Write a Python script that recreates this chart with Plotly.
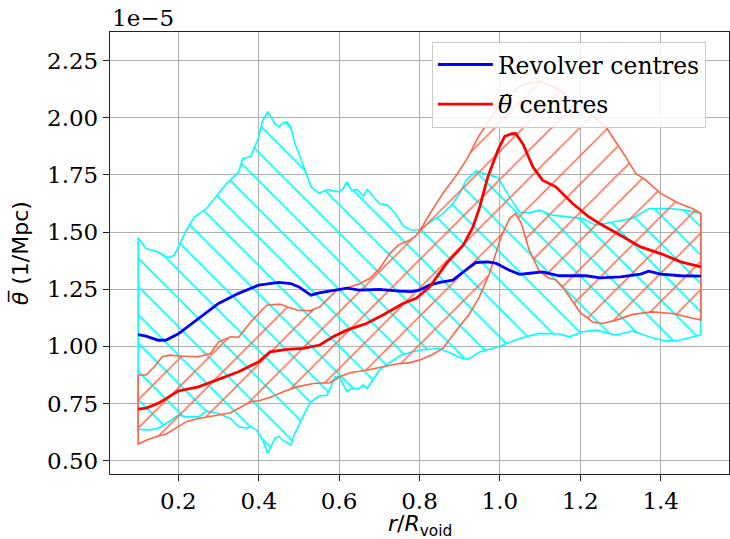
import plotly.graph_objects as go

# Values in units of 1e-5 (1/Mpc)
blue_x = [0.1, 0.12, 0.15, 0.17, 0.2, 0.25, 0.3, 0.35, 0.4, 0.45, 0.48, 0.5, 0.53, 0.55, 0.6, 0.62, 0.65, 0.7, 0.75,
          0.78, 0.8, 0.825, 0.85, 0.883, 0.909, 0.941, 0.97, 0.991, 1.024, 1.049, 1.075, 1.106, 1.148, 1.214, 1.25,
          1.3, 1.35, 1.37, 1.4, 1.45, 1.5]
blue_y = [1.052, 1.045, 1.027, 1.028, 1.055, 1.122, 1.188, 1.232, 1.268, 1.28, 1.275, 1.26, 1.224, 1.234, 1.249,
          1.255, 1.246, 1.249, 1.242, 1.24, 1.246, 1.268, 1.28, 1.29, 1.326, 1.367, 1.37, 1.363, 1.333, 1.315, 1.32,
          1.326, 1.309, 1.309, 1.30, 1.304, 1.316, 1.329, 1.316, 1.309, 1.307]

red_x = [0.1, 0.12, 0.15, 0.2, 0.25, 0.3, 0.35, 0.4, 0.428, 0.47, 0.511, 0.552, 0.585, 0.619, 0.668, 0.709, 0.759,
         0.792, 0.825, 0.867, 0.909, 0.933, 0.95, 0.97, 0.995, 1.012, 1.03, 1.039, 1.057, 1.082, 1.106, 1.139, 1.181,
         1.222, 1.25, 1.3, 1.35, 1.4, 1.45, 1.5]
red_y = [0.726, 0.73, 0.751, 0.805, 0.823, 0.856, 0.889, 0.933, 0.976, 0.987, 0.991, 1.006, 1.042, 1.071, 1.10,
         1.137, 1.188, 1.21, 1.26, 1.363, 1.443, 1.523, 1.61, 1.741, 1.858, 1.919, 1.93, 1.931, 1.887, 1.785, 1.727,
         1.698, 1.625, 1.566, 1.535, 1.486, 1.435, 1.406, 1.37, 1.348]

cyan_up_x = [0.1, 0.12, 0.15, 0.17, 0.18, 0.19, 0.2, 0.22, 0.24, 0.27, 0.3, 0.32, 0.35, 0.36, 0.38, 0.39, 0.4, 0.41,
             0.4225, 0.44, 0.45, 0.46, 0.47, 0.48, 0.49, 0.5, 0.52, 0.53, 0.55, 0.57, 0.6, 0.61, 0.62, 0.63, 0.645,
             0.66, 0.67, 0.7, 0.72, 0.74, 0.76, 0.78, 0.8, 0.858, 0.883, 0.9, 0.916, 0.941, 0.974, 0.995, 1.024,
             1.049, 1.073, 1.098, 1.131, 1.173, 1.206, 1.239, 1.289, 1.33, 1.371, 1.421, 1.462, 1.5]
cyan_up_y = [1.475, 1.428, 1.413, 1.392, 1.39, 1.40, 1.435, 1.508, 1.566, 1.603, 1.669, 1.712, 1.763, 1.822, 1.829,
             1.872, 1.916, 1.989, 2.025, 1.975, 1.96, 1.977, 1.982, 1.96, 1.887, 1.844, 1.741, 1.698, 1.669, 1.686,
             1.676, 1.69, 1.72, 1.683, 1.686, 1.657, 1.686, 1.625, 1.618, 1.581, 1.526, 1.508, 1.511, 1.581, 1.625,
             1.669, 1.727, 1.768, 1.749, 1.739, 1.654, 1.588, 1.584, 1.596, 1.574, 1.566, 1.559, 1.53, 1.545, 1.56,
             1.603, 1.603, 1.596, 1.581]

cyan_lo_x = [0.1, 0.13, 0.15, 0.17, 0.2, 0.22, 0.25, 0.27, 0.3, 0.33, 0.35, 0.37, 0.38, 0.395, 0.41, 0.4225, 0.44,
             0.45, 0.46, 0.47, 0.48, 0.49, 0.5, 0.52, 0.53, 0.55, 0.57, 0.59, 0.6, 0.61, 0.62, 0.63, 0.65, 0.66, 0.67,
             0.7, 0.73, 0.75, 0.78, 0.8, 0.85, 0.88, 0.9, 0.92, 0.95, 0.982, 1.0, 1.049, 1.098, 1.148, 1.173, 1.206,
             1.239, 1.289, 1.33, 1.371, 1.413, 1.446, 1.5]
cyan_lo_y = [0.637, 0.635, 0.642, 0.663, 0.70, 0.692, 0.692, 0.717, 0.707, 0.685, 0.649, 0.642, 0.649, 0.634,
             0.59, 0.532, 0.598, 0.605, 0.59, 0.579, 0.569, 0.62, 0.656, 0.729, 0.758, 0.783, 0.786, 0.867, 0.867,
             0.838, 0.802, 0.816, 0.816, 0.831, 0.816, 0.896, 0.933, 0.958, 0.976, 0.984, 0.991, 0.969, 0.952, 0.943,
             0.976, 0.991, 1.001, 1.035, 1.057, 1.054, 1.042, 1.064, 1.071, 1.05, 1.067, 1.042, 1.023, 1.027, 1.05]

tom_up_x = [0.1, 0.12, 0.14, 0.16, 0.18, 0.2, 0.25, 0.28, 0.3, 0.33, 0.35, 0.38, 0.4, 0.42, 0.453, 0.47, 0.495,
            0.528, 0.552, 0.577, 0.594, 0.627, 0.652, 0.676, 0.701, 0.726, 0.747, 0.776, 0.792, 0.809, 0.825, 0.858,
            0.892, 0.916, 0.949, 0.966, 1.0, 1.05, 1.1, 1.15, 1.2, 1.24, 1.264, 1.28, 1.313, 1.338, 1.363, 1.4,
            1.446, 1.479, 1.5]
tom_up_y = [0.875, 0.875, 0.911, 0.955, 0.962, 0.958, 0.955, 0.969, 1.02, 1.042, 1.04, 1.107, 1.144, 1.18, 1.185,
            1.173, 1.159, 1.156, 1.173, 1.217, 1.246, 1.26, 1.275, 1.297, 1.341, 1.406, 1.443, 1.465, 1.486, 1.53,
            1.578, 1.669, 1.749, 1.814, 1.924, 1.967, 2.06, 2.14, 2.16, 2.12, 2.05, 1.99, 1.96, 1.916, 1.829, 1.756,
            1.727, 1.669, 1.625, 1.603, 1.581]

tom_lo_x = [0.1, 0.12, 0.15, 0.17, 0.2, 0.22, 0.25, 0.28, 0.3, 0.33, 0.35, 0.38, 0.4, 0.428, 0.461, 0.495, 0.536,
            0.577, 0.602, 0.627, 0.668, 0.709, 0.743, 0.776, 0.8, 0.834, 0.858, 0.892, 0.925, 0.949, 0.974, 0.982,
            1.003, 1.024, 1.039, 1.053, 1.073, 1.098, 1.12, 1.14, 1.16, 1.18, 1.2, 1.231, 1.256, 1.289,
            1.33, 1.379, 1.429, 1.462, 1.5]
tom_lo_y = [0.573, 0.59, 0.608, 0.617, 0.649, 0.671, 0.685, 0.695, 0.70, 0.71, 0.729, 0.758, 0.762, 0.777, 0.802,
            0.823, 0.838, 0.841, 0.867, 0.885, 0.896, 0.911, 0.923, 0.929, 0.94, 0.966, 0.991, 1.071, 1.144, 1.217,
            1.319, 1.363, 1.479, 1.559, 1.581, 1.538, 1.421, 1.33, 1.30, 1.29, 1.25, 1.20, 1.148, 1.107,
            1.10, 1.115, 1.14, 1.151, 1.144, 1.129, 1.115]

x_ticks = [0.2, 0.4, 0.6, 0.8, 1.0, 1.2, 1.4]
y_ticks = [0.50, 0.75, 1.00, 1.25, 1.50, 1.75, 2.00, 2.25]

SERIF = "DejaVu Serif"
SANS = "DejaVu Sans"


def band(ux, uy, lx, ly, color, shape, solidity):
    px = ux + lx[::-1] + ux[:1]
    py = uy + ly[::-1] + uy[:1]
    return go.Scatter(x=px, y=py, mode="lines", fill="toself",
                      fillcolor="rgba(0,0,0,0)",
                      fillpattern=dict(shape=shape, fgcolor=color, bgcolor="rgba(0,0,0,0)", fgopacity=1,
                                       size=20, solidity=solidity, fillmode="overlay"),
                      line=dict(color=color, width=1.6), showlegend=False, hoverinfo="skip")


fig = go.Figure()
fig.add_trace(band(cyan_up_x, cyan_up_y, cyan_lo_x, cyan_lo_y, "#00FFFF", "\\", 0.09))
fig.add_trace(band(tom_up_x, tom_up_y, tom_lo_x, tom_lo_y, "#FF6347", "/", 0.075))
fig.add_trace(go.Scatter(x=blue_x, y=blue_y, mode="lines", name="Revolver centres",
                         line=dict(color="#0000FF", width=2.8), legendgroup="a"))
fig.add_trace(go.Scatter(x=red_x, y=red_y, mode="lines", name="<i>θ̅</i> centres",
                         line=dict(color="#FF0000", width=2.8), legendgroup="b"))

axis_common = dict(showline=True, linecolor="#222", linewidth=1.3, mirror=True,
                   showgrid=True, gridcolor="#b0b0b0", gridwidth=1.3, zeroline=False,
                   ticks="outside", ticklen=6, tickwidth=1.3, tickcolor="#222",
                   tickfont=dict(family=SERIF, size=23, color="black"), automargin=False)

fig.update_xaxes(range=[0.03, 1.57], tickvals=x_ticks, tickformat=".1f", **axis_common)
fig.update_yaxes(range=[0.442, 2.375], tickvals=y_ticks, tickformat=".2f", **axis_common)

fig.add_annotation(text="<i>r</i>/<i>R</i><sub>void</sub>", xref="paper", yref="paper", x=0.5, y=-0.117,
                   xanchor="center", yanchor="middle", showarrow=False,
                   font=dict(family=SANS, size=22, color="black"))
fig.add_annotation(text="<i>θ̅</i> (1/Mpc)", xref="paper", yref="paper", x=-0.145, y=0.5, textangle=-90,
                   xanchor="center", yanchor="middle", showarrow=False,
                   font=dict(family=SANS, size=22, color="black"))
fig.add_annotation(text="1e−5", xref="paper", yref="paper", x=0, y=0.997, xanchor="left", yanchor="bottom",
                   showarrow=False, font=dict(family=SERIF, size=23, color="black"))

fig.update_layout(
    width=730, height=539,
    margin=dict(l=110, r=1, t=32, b=65),
    plot_bgcolor="white", paper_bgcolor="white",
    legend=dict(x=0.52, y=0.978, xanchor="left", yanchor="top",
                bgcolor="rgba(255,255,255,0.85)", bordercolor="#cccccc", borderwidth=1,
                font=dict(family=SERIF, size=23.5, color="black"),
                itemwidth=55,
                tracegroupgap=6, traceorder="grouped"),
)

fig.write_html("out.html")
